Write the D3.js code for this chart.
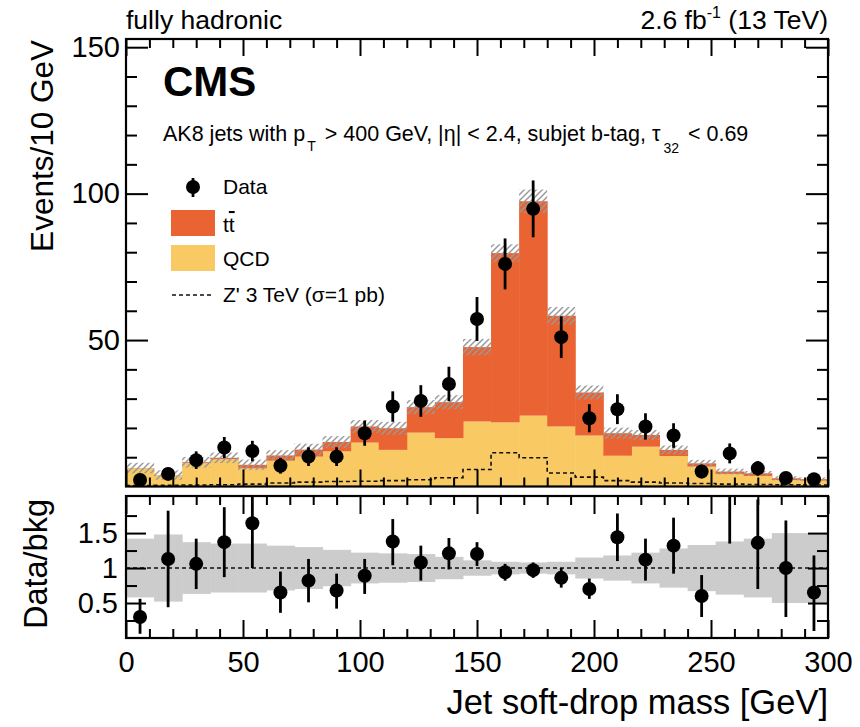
<!DOCTYPE html>
<html>
<head>
<meta charset="utf-8">
<script src="https://cdn.jsdelivr.net/npm/d3@7"></script>
<style>
  body { margin: 0; background: #fff; }
  svg { font-family: "Liberation Sans", Arial, Helvetica, sans-serif; }
</style>
</head>
<body>
<div id="chart"></div>
<script>
// bin edges of the soft-drop mass histogram (GeV)
const binEdges = [0, 12, 24, 36, 48, 60, 72, 84, 96, 108, 120, 132, 144, 156, 168, 180, 192, 204, 216, 228, 240, 252, 264, 276, 288, 300];
const qcd   = [6.2, 3.8, 8.0, 9.3, 6.2, 8.8, 10.2, 12.0, 15.0, 12.5, 18.4, 16.5, 22.2, 21.9, 24.2, 20.5, 17.4, 10.5, 13.6, 10.4, 6.8, 4.3, 3.6, 2.2, 2.0];
const ttbar = [0.1, 0.1, 0.3, 0.5, 1.2, 1.8, 2.4, 3.2, 5.5, 7.4, 8.7, 12.3, 25.4, 57.8, 73.2, 37.8, 14.7, 7.7, 4.0, 2.1, 1.1, 0.8, 0.9, 0.6, 0.5];
const bkgUnc = [1.8, 1.6, 1.8, 1.8, 1.8, 1.8, 2.0, 2.0, 2.2, 2.2, 2.4, 2.4, 2.8, 3.0, 4.0, 3.0, 2.4, 1.9, 1.7, 1.5, 1.2, 1.0, 0.8, 0.7, 0.6];
const zprime = [0.3, 0.4, 0.5, 0.6, 0.8, 1.2, 1.5, 1.7, 1.8, 2.0, 2.3, 3.0, 5.8, 11.5, 9.8, 4.6, 3.2, 2.0, 1.5, 1.2, 1.0, 0.8, 0.7, 0.6, 0.5];
const data    = [2.2, 4.3, 9.0, 13.3, 12.1, 7.1, 10.2, 10.2, 18.2, 27.3, 29.2, 35.0, 57.2, 76.0, 94.8, 51.0, 23.3, 26.4, 20.5, 17.4, 5.1, 11.3, 6.2, 2.9, 2.5];
const dataErr = [1.5, 2.1, 3.0, 3.6, 3.5, 2.7, 3.2, 3.2, 4.3, 5.2, 5.4, 5.9, 7.5, 8.7, 9.7, 7.1, 4.8, 5.1, 4.5, 4.2, 2.3, 3.4, 2.5, 1.7, 1.6];

// lower panel
const ratio     = [0.30, 1.13, 1.06, 1.37, 1.64, 0.65, 0.82, 0.68, 0.89, 1.38, 1.08, 1.21, 1.20, 0.94, 0.97, 0.86, 0.70, 1.44, 1.12, 1.32, 0.60, 2.25, 1.36, 1.00, 0.65];
const ratioUp   = [0.26, 0.69, 0.36, 0.50, 0.45, 0.30, 0.31, 0.24, 0.24, 0.32, 0.24, 0.22, 0.17, 0.12, 0.11, 0.14, 0.15, 0.34, 0.30, 0.40, 0.30, 0.70, 0.62, 0.68, 0.53];
const ratioDown = [0.24, 0.69, 0.36, 0.50, 0.64, 0.29, 0.31, 0.26, 0.26, 0.34, 0.26, 0.23, 0.17, 0.12, 0.11, 0.14, 0.14, 0.34, 0.30, 0.40, 0.30, 0.90, 0.66, 0.70, 0.55];
const ratioBand = [0.42, 0.48, 0.37, 0.35, 0.35, 0.32, 0.30, 0.26, 0.22, 0.21, 0.20, 0.16, 0.11, 0.09, 0.08, 0.09, 0.15, 0.18, 0.22, 0.28, 0.33, 0.38, 0.42, 0.50, 0.50];

const xMajor = [0, 50, 100, 150, 200, 250, 300];
const yMajor = [50, 100, 150];
const rMajor = [0.5, 1, 1.5];

const W = 860, H = 727;
const X0 = 126, X1 = 828;
const top1 = 39, bot1 = 486.5;
const top2 = 496, bot2 = 638;

const TT = '#ea6433', QCD = '#f9c963';

const svg = d3.select('#chart').append('svg')
    .attr('width', W)
    .attr('height', H);

const defs = svg.append('defs');
const pat = defs.append('pattern')
    .attr('id', 'hatch')
    .attr('patternUnits', 'userSpaceOnUse')
    .attr('width', 6).attr('height', 6);
pat.append('path')
    .attr('d', 'M-1,1 l2,-2 M0,6 l6,-6 M5,7 l2,-2')
    .attr('stroke', '#999')
    .attr('stroke-width', 1.5);
defs.append('clipPath').attr('id', 'clipR')
    .append('rect').attr('x', X0).attr('y', top2).attr('width', X1 - X0).attr('height', bot2 - top2);

const x = d3.scaleLinear().domain([0, 300]).range([X0, X1]);
const y = d3.scaleLinear().domain([0, 152.8]).range([bot1, top1]);
const yr = d3.scaleLinear().domain([0, 2.03]).range([bot2, top2]);

const bins = data.map((d, i) => ({
    lo: binEdges[i], hi: binEdges[i + 1], mid: (binEdges[i] + binEdges[i + 1]) / 2,
    qcd: qcd[i], tt: ttbar[i], unc: bkgUnc[i], z: zprime[i],
    data: d, err: dataErr[i],
    r: ratio[i], rUp: ratioUp[i], rDn: ratioDown[i], band: ratioBand[i]
}));

// ---- upper panel ----
const main = svg.append('g');

main.selectAll('rect.qcd').data(bins).enter().append('rect')
    .attr('class', 'qcd')
    .attr('x', d => x(d.lo)).attr('width', d => x(d.hi) - x(d.lo) + 0.5)
    .attr('y', d => y(d.qcd)).attr('height', d => y(0) - y(d.qcd))
    .attr('fill', QCD);

main.selectAll('rect.tt').data(bins).enter().append('rect')
    .attr('class', 'tt')
    .attr('x', d => x(d.lo)).attr('width', d => x(d.hi) - x(d.lo) + 0.5)
    .attr('y', d => y(d.qcd + d.tt)).attr('height', d => y(d.qcd) - y(d.qcd + d.tt))
    .attr('fill', TT);

main.selectAll('rect.unc').data(bins).enter().append('rect')
    .attr('class', 'unc')
    .attr('x', d => x(d.lo)).attr('width', d => x(d.hi) - x(d.lo))
    .attr('y', d => y(d.qcd + d.tt + d.unc))
    .attr('height', d => y(Math.max(0, d.qcd + d.tt - d.unc)) - y(d.qcd + d.tt + d.unc))
    .attr('fill', 'url(#hatch)');

// Z' signal as a dashed step line
const zPts = bins.map(d => [d.lo, d.z]);
zPts.push([300, bins[bins.length - 1].z]);
main.append('path')
    .attr('d', d3.line().x(d => x(d[0])).y(d => y(d[1])).curve(d3.curveStepAfter)(zPts))
    .attr('fill', 'none')
    .attr('stroke', '#111')
    .attr('stroke-width', 1.6)
    .attr('stroke-dasharray', '4,3');

main.selectAll('line.err').data(bins).enter().append('line')
    .attr('x1', d => x(d.mid)).attr('x2', d => x(d.mid))
    .attr('y1', d => y(d.data + d.err)).attr('y2', d => y(Math.max(0, d.data - d.err)))
    .attr('stroke', '#000').attr('stroke-width', 2.8);
main.selectAll('circle').data(bins).enter().append('circle')
    .attr('cx', d => x(d.mid)).attr('cy', d => y(d.data))
    .attr('r', 7).attr('fill', '#000');

// ---- lower panel ----
const low = svg.append('g').attr('clip-path', 'url(#clipR)');

low.selectAll('rect.band').data(bins).enter().append('rect')
    .attr('x', d => x(d.lo)).attr('width', d => x(d.hi) - x(d.lo) + 0.5)
    .attr('y', d => yr(1 + d.band)).attr('height', d => yr(1 - d.band) - yr(1 + d.band))
    .attr('fill', '#cccccc');

low.append('line')
    .attr('x1', X0).attr('x2', X1).attr('y1', yr(1)).attr('y2', yr(1))
    .attr('stroke', '#111').attr('stroke-width', 1.6).attr('stroke-dasharray', '4,3');

low.selectAll('line.rerr').data(bins).enter().append('line')
    .attr('x1', d => x(d.mid)).attr('x2', d => x(d.mid))
    .attr('y1', d => yr(d.r + d.rUp)).attr('y2', d => yr(d.r - d.rDn))
    .attr('stroke', '#000').attr('stroke-width', 2.8);
low.selectAll('circle').data(bins).enter().append('circle')
    .attr('cx', d => x(d.mid)).attr('cy', d => yr(d.r))
    .attr('r', 7).attr('fill', '#000');

// ---- axes (ROOT style: ticks inside, on all four sides) ----
function tidy(g, fontSize) {
    g.select('.domain').remove();
    g.selectAll('line').attr('stroke', '#000').attr('stroke-width', 2);
    g.selectAll('text').attr('font-size', fontSize).attr('fill', '#000')
        .attr('font-family', '"Liberation Sans", Arial, sans-serif');
}
const xMinor = d3.range(0, 301, 10).filter(v => v % 50 !== 0);

// upper panel
svg.append('g').attr('transform', `translate(${X0},0)`)
    .call(d3.axisLeft(y).tickValues(yMajor).tickSize(-22).tickPadding(6).tickFormat(d3.format('d')))
    .call(g => tidy(g, 29));
svg.append('g').attr('transform', `translate(${X0},0)`)
    .call(d3.axisLeft(y).tickValues(d3.range(10, 151, 10).filter(v => v % 50 !== 0)).tickSize(-11).tickFormat(''))
    .call(g => tidy(g, 0));
svg.append('g').attr('transform', `translate(${X1},0)`)
    .call(d3.axisRight(y).tickValues(yMajor).tickSize(-22).tickFormat(''))
    .call(g => tidy(g, 0));
svg.append('g').attr('transform', `translate(${X1},0)`)
    .call(d3.axisRight(y).tickValues(d3.range(10, 151, 10).filter(v => v % 50 !== 0)).tickSize(-11).tickFormat(''))
    .call(g => tidy(g, 0));
[[bot1, d3.axisBottom], [top1, d3.axisTop]].forEach(([yy, ax]) => {
    svg.append('g').attr('transform', `translate(0,${yy})`)
        .call(ax(x).tickValues(xMajor).tickSize(-17).tickFormat(''))
        .call(g => tidy(g, 0));
    svg.append('g').attr('transform', `translate(0,${yy})`)
        .call(ax(x).tickValues(xMinor).tickSize(-9).tickFormat(''))
        .call(g => tidy(g, 0));
});

// lower panel
svg.append('g').attr('transform', `translate(${X0},0)`)
    .call(d3.axisLeft(yr).tickValues(rMajor).tickSize(-20).tickPadding(8).tickFormat(d => d))
    .call(g => tidy(g, 29));
svg.append('g').attr('transform', `translate(${X0},0)`)
    .call(d3.axisLeft(yr).tickValues([0.25, 0.75, 1.25, 1.75]).tickSize(-11).tickFormat(''))
    .call(g => tidy(g, 0));
svg.append('g').attr('transform', `translate(${X1},0)`)
    .call(d3.axisRight(yr).tickValues(rMajor).tickSize(-20).tickFormat(''))
    .call(g => tidy(g, 0));
svg.append('g').attr('transform', `translate(${X1},0)`)
    .call(d3.axisRight(yr).tickValues([0.25, 0.75, 1.25, 1.75]).tickSize(-11).tickFormat(''))
    .call(g => tidy(g, 0));
svg.append('g').attr('transform', `translate(0,${bot2})`)
    .call(d3.axisBottom(x).tickValues(xMajor).tickSize(-18).tickPadding(13).tickFormat(d3.format('d')))
    .call(g => tidy(g, 29));
svg.append('g').attr('transform', `translate(0,${bot2})`)
    .call(d3.axisBottom(x).tickValues(xMinor).tickSize(-9).tickFormat(''))
    .call(g => tidy(g, 0));
svg.append('g').attr('transform', `translate(0,${top2})`)
    .call(d3.axisTop(x).tickValues(xMajor).tickSize(-18).tickFormat(''))
    .call(g => tidy(g, 0));
svg.append('g').attr('transform', `translate(0,${top2})`)
    .call(d3.axisTop(x).tickValues(xMinor).tickSize(-9).tickFormat(''))
    .call(g => tidy(g, 0));

// frames
[[top1, bot1], [top2, bot2]].forEach(([t, b]) => {
    svg.append('rect')
        .attr('x', X0).attr('y', t).attr('width', X1 - X0).attr('height', b - t)
        .attr('fill', 'none').attr('stroke', '#000').attr('stroke-width', 2.2);
});

// ---- titles and labels ----
svg.append('text').attr('x', X0).attr('y', 29)
    .attr('font-size', 26.5).text('fully hadronic');
const lumi = svg.append('text').attr('x', X1).attr('y', 29)
    .attr('font-size', 26.5).attr('text-anchor', 'end');
lumi.append('tspan').text('2.6 fb');
lumi.append('tspan').attr('font-size', 16).attr('dy', -11).text('-1');
lumi.append('tspan').attr('dy', 11).text(' (13 TeV)');

svg.append('text').attr('x', 163).attr('y', 96)
    .attr('font-size', 42).attr('font-weight', 'bold').text('CMS');

const sel = svg.append('text').attr('x', 163).attr('y', 141).attr('font-size', 21.5);
sel.append('tspan').text('AK8 jets with p');
sel.append('tspan').attr('font-size', 14).attr('dy', 10).attr('dx', 2).text('T');
sel.append('tspan').attr('dy', -10).attr('dx', 3).text(' > 400 GeV, |η| < 2.4, subjet b-tag, τ');
sel.append('tspan').attr('font-size', 14).attr('dy', 12).attr('dx', 3).text('32');
sel.append('tspan').attr('dy', -12).attr('dx', 3).text(' < 0.69');

svg.append('text')
    .attr('transform', `translate(53,${top1 + 1}) rotate(-90)`)
    .attr('text-anchor', 'end').attr('font-size', 31.5).text('Events/10 GeV');
svg.append('text')
    .attr('transform', `translate(47,${top2 + 3}) rotate(-90)`)
    .attr('text-anchor', 'end').attr('font-size', 32.5).text('Data/bkg');
svg.append('text').attr('x', X1).attr('y', 714)
    .attr('text-anchor', 'end').attr('font-size', 34.5).text('Jet soft-drop mass [GeV]');

// ---- legend ----
const leg = svg.append('g').attr('font-size', 21);
leg.append('line').attr('x1', 193).attr('x2', 193).attr('y1', 178).attr('y2', 197)
    .attr('stroke', '#000').attr('stroke-width', 2.8);
leg.append('circle').attr('cx', 193).attr('cy', 187).attr('r', 7).attr('fill', '#000');
leg.append('text').attr('x', 223).attr('y', 194).text('Data');

leg.append('rect').attr('x', 171).attr('y', 210).attr('width', 44).attr('height', 26).attr('fill', TT);
const ttText = leg.append('text').attr('x', 223).attr('y', 232);
ttText.append('tspan').text('t');
ttText.append('tspan').style('text-decoration', 'overline').text('t');

leg.append('rect').attr('x', 171).attr('y', 245).attr('width', 44).attr('height', 26).attr('fill', QCD);
leg.append('text').attr('x', 223).attr('y', 266).text('QCD');

leg.append('line').attr('x1', 172).attr('x2', 213).attr('y1', 295).attr('y2', 295)
    .attr('stroke', '#111').attr('stroke-width', 1.6).attr('stroke-dasharray', '4,3');
leg.append('text').attr('x', 223).attr('y', 302).text('Z\' 3 TeV (σ=1 pb)');
</script>
</body>
</html>
